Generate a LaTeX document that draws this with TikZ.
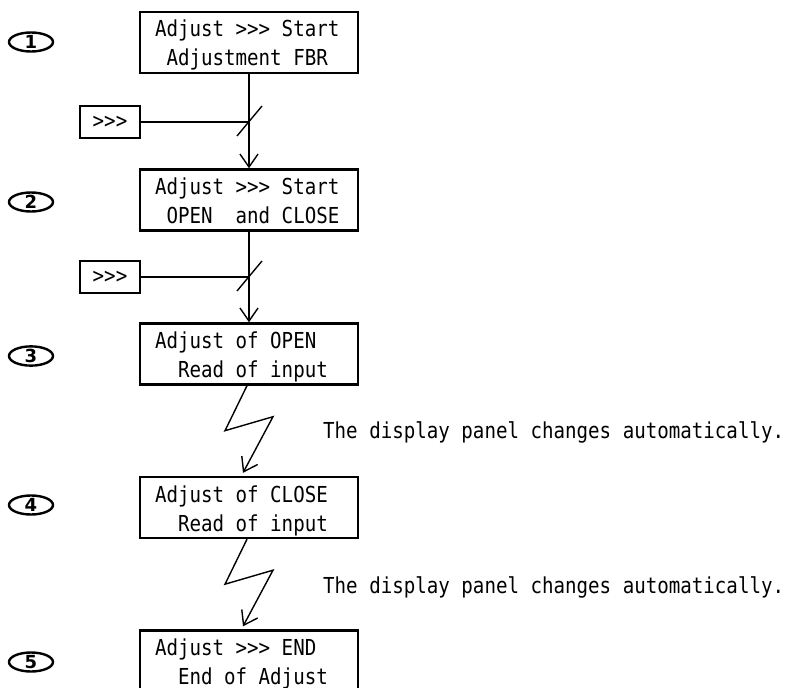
\documentclass[tikz,border=0pt]{standalone}
\usepackage{fontspec}
\usepackage{tikz}
\usetikzlibrary{arrows.meta, shapes.geometric}

\newfontfamily\lcdfont[FakeStretch=0.87, WordSpace={1,0,0}, Ligatures=TeXOff]{DejaVu Sans Mono}
\newfontfamily\numfont{DejaVu Sans}
\newcommand\gap{\hphantom{x}}

\tikzset{
  panel/.style={draw, line width=2.4bp, text width=188bp, align=flush left, inner xsep=15bp, inner ysep=0pt,
    text height=25bp, text depth=36bp, font=\lcdfont\fontsize{22bp}{29bp}\selectfont},
  keybox/.style={draw, line width=1.3bp, minimum width=60bp, minimum height=32bp, inner sep=0pt,
    font=\lcdfont\fontsize{22bp}{29bp}\selectfont},
  circnum/.style={draw, ellipse, line width=2.4bp, minimum width=44bp, minimum height=19bp, inner sep=0pt,
    font=\numfont\bfseries\fontsize{18bp}{18bp}\selectfont},
  note/.style={anchor=base west, inner sep=0pt, font=\lcdfont\fontsize{22bp}{29bp}\selectfont},
  wire/.style={line width=1.4bp},
  tip/.style={-{Straight Barb[length=13bp,width=18bp]}}
}

\begin{document}
\begin{tikzpicture}[x=1bp, y=-1bp]
  \useasboundingbox (0,0) rectangle (802,688);

  % display panels
  \foreach \i/\y/\txt in {1/42.5/{Adjust >>> Start\\\gap Adjustment FBR},
                          2/200/{Adjust >>> Start\\\gap OPEN\gap\gap and CLOSE},
                          3/354/{Adjust of OPEN\\\gap\gap Read of input},
                          4/507.5/{Adjust of CLOSE\\\gap\gap Read of input},
                          5/661/{Adjust >>> END\\\gap\gap End of Adjust}} {
    \node[panel] (d\i) at (249,\y) {\txt};
  }

  % step numbers
  \foreach \i/\y in {1/42, 2/202, 3/356, 4/505, 5/662} {
    \node[circnum] (c\i) at (31,\y) {\i};
  }

  % key presses
  \node[keybox] (k1) at (110,122) {>>>};
  \node[keybox] (k2) at (110,277) {>>>};

  \foreach \i/\j in {1/2, 2/3} {
    \draw[wire, tip] (d\i) -- (d\j);
    \draw[wire] (k\i) -- (k\i -| d\i.south) coordinate (j\i);
    \draw[wire] (j\i) ++(-12,14) -- ++(25,-30);
  }

  % automatic changes
  \foreach \i/\j in {3/4, 4/5} {
    \draw[wire, tip] ([xshift=-2bp]d\i.south) -- ++(-22,45) -- ++(48,-14) -- ([xshift=-6bp, yshift=3bp]d\j.north);
  }

  \node[note] (n1) at (323,438) {The display panel changes automatically.};
  \node[note] (n2) at (323,593) {The display panel changes automatically.};
\end{tikzpicture}
\end{document}
